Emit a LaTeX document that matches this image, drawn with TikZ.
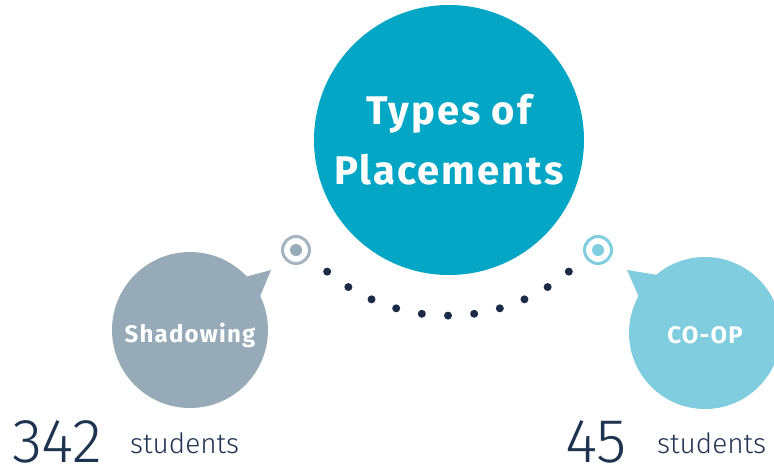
\documentclass[tikz,border=0pt]{standalone}
\usepackage{fontspec}
\setmainfont{Fira Sans}[LetterSpace=5]
\newfontfamily\numfont{Fira Sans}[UprightFont=* Light]
\definecolor{maincol}{HTML}{04A6C6}
\definecolor{shadcol}{HTML}{96AAB8}
\definecolor{shadring}{HTML}{A3B4C0}
\definecolor{coopcol}{HTML}{80CDE0}
\definecolor{dotcol}{HTML}{1C2B45}
\definecolor{numcol}{HTML}{1E3350}
\tikzset{
  bubble/.style={circle, inner sep=0pt},
  bubbletext/.style={inner sep=0pt, text=white, font=\bfseries\fontsize{24}{28}\selectfont},
  target/.style={circle, inner sep=0pt, minimum size=27pt, line width=3pt},
  bignum/.style={anchor=base west, inner sep=0pt, text depth=0pt, text=numcol, font=\numfont\fontsize{62}{64}\selectfont},
  smalltxt/.style={anchor=base west, inner sep=0pt, text depth=0pt, text=numcol, font=\numfont\fontsize{28}{30}\selectfont},
}
\begin{document}
\begin{tikzpicture}[x=1pt,y=-1pt]
\useasboundingbox (0,0) rectangle (774,469);
% main circle
\node[circle, fill=maincol, minimum size=270pt, inner sep=0pt, text=white,
  font=\bfseries\fontsize{40}{60}\selectfont, align=center] (main) at (449,140)
  {Types of\\Placements};
% shadowing bubble
\fill[shadcol] (234,280) -- (271,270) -- (256,306) -- cycle;
\node[bubble, fill=shadcol, minimum size=156pt] (shad) at (190,330) {};
\node[bubbletext] (shadtxt) at ([yshift=-5pt]shad.center) {Shadowing};
% coop bubble
\fill[coopcol] (664,276) -- (627,270) -- (642,304) -- cycle;
\node[bubble, fill=coopcol, minimum size=152pt] (coop) at (705,333) {};
\node[bubbletext] (cooptxt) at ([yshift=-2pt]coop.center) {CO-OP};
% targets
\node[target, draw=shadring] (t1) at (296,250) {};
\fill[shadcol] (t1.center) circle (6);
\node[target, draw=coopcol] (t2) at (598,250) {};
\fill[coopcol] (t2.center) circle (6);
% dotted arc
\foreach \a in {230,238,...,310}
  \fill[dotcol] ({448+188*cos(\a)},{127.6-188*sin(\a)}) circle (4);
% numbers
\node[bignum] (n1) at (12,462) {342};
\node[smalltxt] (s1) at (130,453) {students};
\node[bignum] (n2) at (565,462) {45};
\node[smalltxt] (s2) at (657,453) {students};
\end{tikzpicture}
\end{document}
